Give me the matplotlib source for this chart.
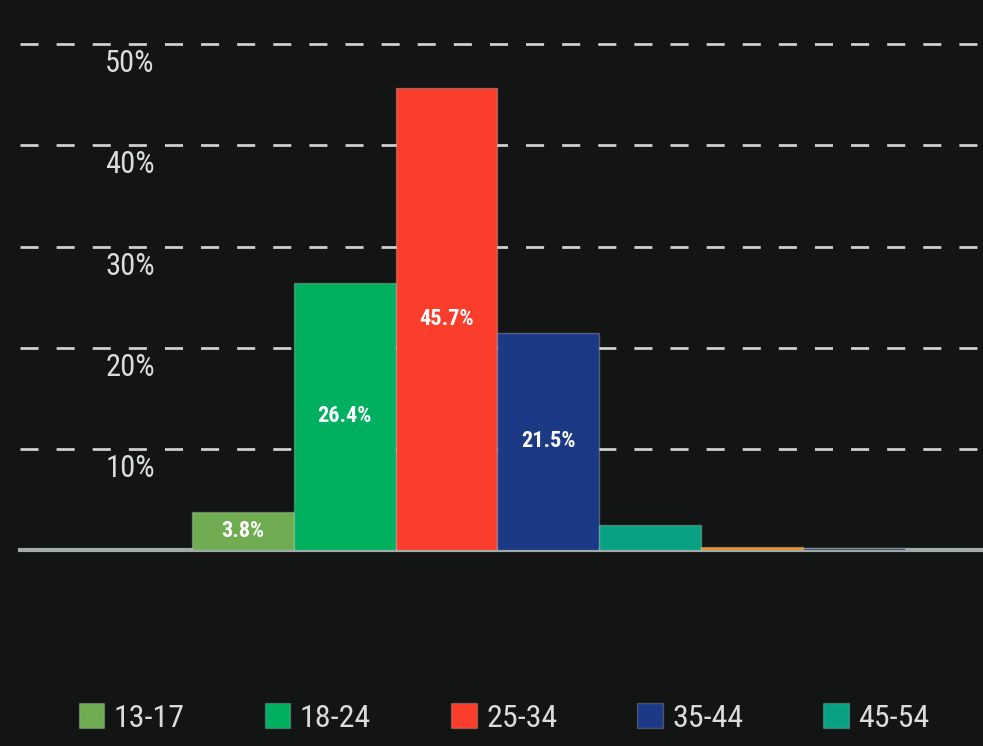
import matplotlib
matplotlib.use("Agg")
from matplotlib import pyplot as plt
from matplotlib.patches import Patch
import matplotlib.transforms as mtransforms
import numpy as np

ages = ["13-17", "18-24", "25-34", "35-44", "45-54", "55-64", "65+"]
shares = [3.8, 26.4, 45.7, 21.5, 2.5, 0.3, 0.15]
colors = ["#6fac52", "#00af5f", "#fb3d2b", "#1c3986", "#08a283", "#e8900f", "#2b3a58"]
shown_labels = [0, 1, 2, 3]
ticks = [10, 20, 30, 40, 50]

bg = "#131515"
plt.rcParams["font.family"] = ["Roboto Condensed", "DejaVu Sans"]

fig = plt.figure(figsize=(9.83, 7.46), dpi=100, facecolor=bg)
ax = fig.add_axes([20 / 983, 1 - 550 / 746, 963 / 983, 530 / 746])
ax.set_facecolor(bg)

x = np.arange(len(ages))
bars = ax.bar(x, shares, width=1.0, color=colors,
              edgecolor=(1, 1, 1, 0.25), linewidth=1.0, zorder=3)

for i in shown_labels:
    ax.text(x[i], shares[i] / 2, f"{shares[i]}%", ha="center", va="center",
            color="white", fontsize=16, fontweight="bold", zorder=4)

ax.set_xlim(-2.19, 7.27)
ax.set_ylim(0, 52.4)

# dashed grid lines and labels sitting under them
for t in ticks:
    ax.axhline(t, color="#cfcfcf", lw=2, ls=(0, (6.5, 6.5)), zorder=1)
trans = mtransforms.blended_transform_factory(ax.transAxes, ax.transData)
for t in ticks:
    ax.text(0.14, t - 0.5, f"{t}%", transform=trans, ha="right", va="top",
            color="#d8dcdc", fontsize=22)

ax.axhline(0, color="#a2aaaa", lw=3, zorder=2, clip_on=False)

for s in ax.spines.values():
    s.set_visible(False)
ax.set_xticks([])
ax.set_yticks([])

handles = [Patch(facecolor=colors[i], edgecolor=(1, 1, 1, 0.2)) for i in range(5)]
leg = fig.legend(handles, ages[:5], loc="center", bbox_to_anchor=(0.513, 0.0375),
                 ncol=5, frameon=False, fontsize=23, handlelength=0.8,
                 handleheight=0.8, handletextpad=0.3, columnspacing=2.5)
for txt in leg.get_texts():
    txt.set_color("#d8dcdc")

fig.savefig("out.png", dpi=100, facecolor=bg)
